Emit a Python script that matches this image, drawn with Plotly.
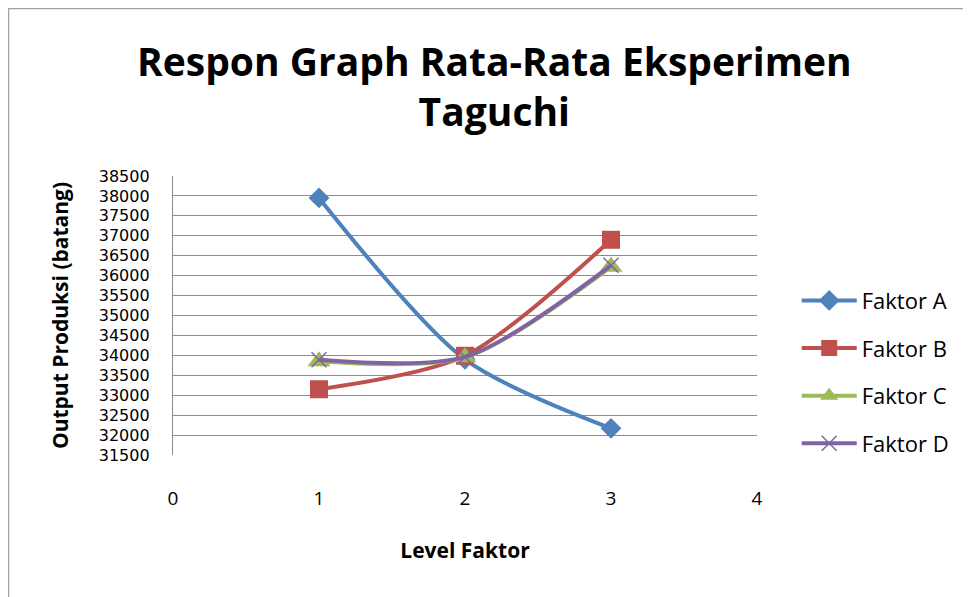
import plotly.graph_objects as go

levels = [1, 2, 3]
faktor_a = [37950, 33900, 32170]
faktor_b = [33150, 33990, 36900]
faktor_c = [33850, 33950, 36220]
faktor_d = [33890, 33960, 36260]

y_ticks = list(range(31500, 38501, 500))
y_tick_labels = [str(v) for v in y_ticks]
x_ticks = [0, 1, 2, 3, 4]

series = [
    ("Faktor A", faktor_a, "#4F81BD", dict(symbol="diamond", size=16)),
    ("Faktor B", faktor_b, "#C0504D", dict(symbol="square", size=18)),
    ("Faktor C", faktor_c, "#9BBB59", dict(symbol="triangle-up", size=20)),
    ("Faktor D", faktor_d, "#8064A2", dict(symbol="x-thin-open", size=15, line=dict(width=1.5, color="#8064A2"))),
]

fig = go.Figure()
for i, (name, vals, color, marker) in enumerate(series):
    m = dict(color=color, **marker)
    fig.add_trace(go.Scatter(
        x=levels, y=vals, name=name, mode="lines+markers",
        line=dict(color=color, width=4, shape="spline", smoothing=0.8),
        marker=m, legendgroup=f"g{i}",
    ))

font_family = "'Open Sans', sans-serif"
fig.update_layout(
    width=963, height=589,
    paper_bgcolor="white", plot_bgcolor="white",
    margin=dict(l=165, r=214, t=168, b=142),
    title=dict(
        text="<b>Respon Graph Rata-Rata Eksperimen<br>Taguchi</b>",
        x=0.505, xanchor="center", y=0.885, yanchor="top",
        font=dict(family=font_family, size=39, color="black"),
    ),
    font=dict(family=font_family, color="black"),
    showlegend=True,
    legend=dict(
        x=1.068, xanchor="left", y=0.297, yanchor="middle",
        font=dict(size=22, color="black"),
        tracegroupgap=16, itemwidth=55,
    ),
    xaxis=dict(
        range=[0, 4], tickvals=x_ticks, ticktext=[str(v) for v in x_ticks],
        showgrid=False, zeroline=False, showline=False,
        ticks="", tickfont=dict(size=19),
        ticklabelstandoff=30,
        title=dict(text="<b>Level Faktor</b>", font=dict(size=21), standoff=33),
    ),
    yaxis=dict(
        range=[31500, 38500], tickvals=y_ticks, ticktext=y_tick_labels,
        showgrid=True, gridcolor="#8c8c8c", gridwidth=1.3,
        zeroline=False, showline=True, linecolor="#8c8c8c", linewidth=1.3,
        ticks="", tickfont=dict(family="'DejaVu Sans', sans-serif", size=16),
        ticklabelstandoff=19,
        title=dict(text="<b>Output Produksi (batang)</b>", font=dict(size=21), standoff=24),
    ),
    shapes=[dict(type="rect", xref="paper", yref="paper",
                 x0=-0.2817, x1=1.5, y0=-0.8, y1=1.6004,
                 line=dict(color="#a0a0a0", width=1.5), layer="below")],
)

fig.write_html("out.html")
